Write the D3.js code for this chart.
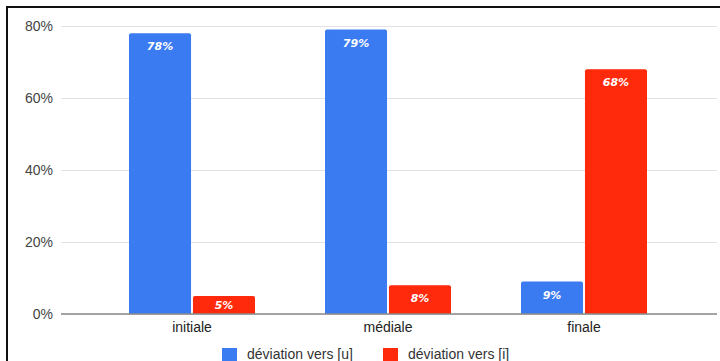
<!DOCTYPE html>
<html><head><meta charset="utf-8">
<script src="https://cdn.jsdelivr.net/npm/d3@7"></script>
<style>body{margin:0;background:#fff}svg{display:block}</style>
</head><body><svg id="c" width="720" height="361"></svg>
<script>
const categories = ["initiale", "médiale", "finale"];
const series = ["déviation vers [u]", "déviation vers [i]"];
const valuesU = [78, 79, 9];
const valuesI = [5, 8, 68];
const yTicks = [0, 20, 40, 60, 80];
const colors = ["#3b7bf2", "#fe2a0b"];

const svg = d3.select("#c");
const font = "'Liberation Sans', Arial, sans-serif";
const valFont = "'DejaVu Sans', Verdana, sans-serif";

// frame
svg.append("line").attr("x1",7).attr("x2",7).attr("y1",6).attr("y2",361).attr("stroke","#111").attr("stroke-width",2);
svg.append("line").attr("x1",6).attr("x2",720).attr("y1",7).attr("y2",7).attr("stroke","#111").attr("stroke-width",2);

const y = d3.scaleLinear().domain([0, 80]).range([314, 26]);
const x0 = d3.scaleBand().domain(categories).range([94, 682]);
const bw = x0.bandwidth();
const x1 = d3.scaleBand().domain(series).range([bw/2 - 63, bw/2 + 63]).paddingInner(0.03);

// grid
const yAxis = d3.axisLeft(y).tickValues(yTicks).tickFormat(d => d + "%").tickSize(0).tickPadding(8);
const gy = svg.append("g").attr("transform","translate(61,0)").call(yAxis);
gy.select(".domain").remove();
gy.selectAll("text").attr("font-family", font).attr("font-size", 14).attr("fill", "#444");
gy.selectAll(".tick").append("line").attr("x1",0).attr("x2",656).attr("stroke","#e2e2e2").attr("stroke-width",1);

const data = categories.map((c,i) => ({cat:c, vals:[valuesU[i], valuesI[i]]}));

const groups = svg.append("g").selectAll("g").data(data).join("g")
  .attr("transform", d => `translate(${x0(d.cat)},0)`);

function barPath(x, w, yt, yb, r) {
  return `M${x},${yb}V${yt+r}Q${x},${yt} ${x+r},${yt}H${x+w-r}Q${x+w},${yt} ${x+w},${yt+r}V${yb}Z`;
}

groups.selectAll("path").data(d => d.vals.map((v,j) => ({s:series[j], v, j}))).join("path")
  .attr("d", d => barPath(x1(d.s), x1.bandwidth(), y(d.v), y(0), 2))
  .attr("fill", d => colors[d.j]);

groups.selectAll("text.val").data(d => d.vals.map((v,j) => ({s:series[j], v, j}))).join("text")
  .attr("class","val")
  .attr("x", d => x1(d.s) + x1.bandwidth()/2)
  .attr("y", d => Math.min(y(d.v) + 17, (y(d.v) + y(0)) / 2 + 4))
  .attr("text-anchor","middle")
  .attr("font-family", valFont).attr("font-size", 11).attr("font-weight","bold").attr("font-style","italic")
  .attr("fill","#fff")
  .text(d => d.v + "%");

// baseline
svg.append("line").attr("x1",61).attr("x2",717).attr("y1",y(0)).attr("y2",y(0)).attr("stroke","#8a8a8a").attr("stroke-width",1.5);

// x axis labels
const xAxis = d3.axisBottom(x0).tickSize(0).tickPadding(8);
const gx = svg.append("g").attr("transform",`translate(0,${y(0)})`).call(xAxis);
gx.select(".domain").remove();
gx.selectAll("text").attr("font-family", font).attr("font-size", 14).attr("fill", "#222");

// legend
const legX = [222, 383];
const leg = svg.append("g").selectAll("g").data(series).join("g")
  .attr("transform", (d,i) => `translate(${legX[i]},348)`);
leg.append("rect").attr("width",15).attr("height",13).attr("fill",(d,i)=>colors[i]);
leg.append("text").attr("x",25).attr("y",11).attr("font-family",font).attr("font-size",14).attr("fill","#333").text(d=>d);
</script></body></html>
